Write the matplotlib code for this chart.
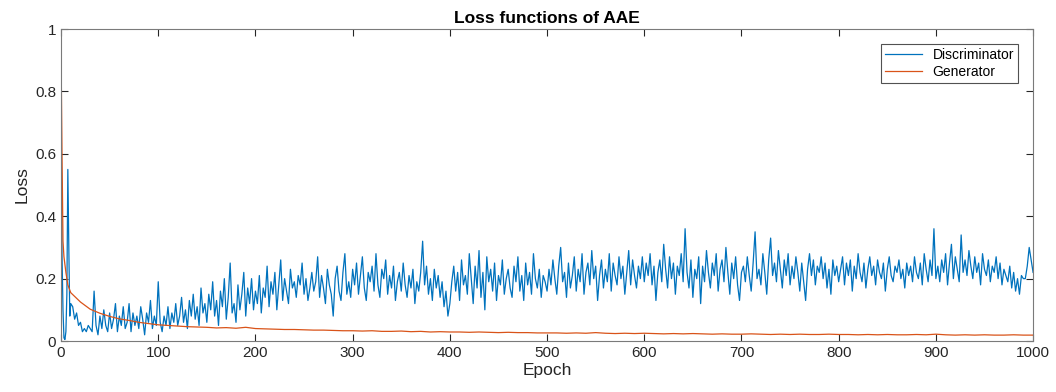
import numpy as np
import matplotlib.pyplot as plt

plt.rcParams['font.family'] = ['Liberation Sans', 'DejaVu Sans']

# ----------------------------
# Data
# ----------------------------

# discriminator, first epochs one by one
disc_early_epochs = [0, 1, 2, 3, 4, 5, 6, 7, 8, 9, 10]
disc_early_loss = [0.75, 0.28, 0.10, 0.01, 0.005, 0.03, 0.15, 0.55, 0.30, 0.08, 0.12]

# discriminator, then every 2 epochs from 12 to 1000
disc_step_start = 12
disc_step = 2
disc_loss = [
    # 12 - 100
    0.11, 0.07, 0.09, 0.05, 0.06, 0.03, 0.04, 0.03, 0.05, 0.04,
    0.03, 0.16, 0.05, 0.02, 0.08, 0.04, 0.10, 0.05, 0.03, 0.09,
    0.04, 0.07, 0.12, 0.03, 0.08, 0.05, 0.11, 0.04, 0.06, 0.12,
    0.03, 0.09, 0.05, 0.08, 0.04, 0.11, 0.07, 0.02, 0.09, 0.06,
    0.13, 0.04, 0.08, 0.05, 0.19,
    # 102 - 200
    0.06, 0.03, 0.08, 0.05, 0.11, 0.04, 0.09, 0.06, 0.12, 0.05,
    0.08, 0.14, 0.06, 0.10, 0.04, 0.13, 0.08, 0.15, 0.07, 0.11,
    0.05, 0.17, 0.09, 0.12, 0.06, 0.15, 0.10, 0.19, 0.08, 0.13,
    0.05, 0.16, 0.11, 0.20, 0.07, 0.14, 0.25, 0.09, 0.12, 0.06,
    0.18, 0.10, 0.15, 0.22, 0.08, 0.17, 0.12, 0.20, 0.10, 0.16,
    # 202 - 300
    0.12, 0.21, 0.09, 0.17, 0.14, 0.24, 0.11, 0.19, 0.15, 0.22,
    0.10, 0.18, 0.26, 0.13, 0.20, 0.16, 0.12, 0.23, 0.17, 0.19,
    0.14, 0.21, 0.18, 0.25, 0.15, 0.20, 0.13, 0.17, 0.22, 0.16,
    0.19, 0.27, 0.14, 0.21, 0.17, 0.12, 0.23, 0.18, 0.15, 0.08,
    0.20, 0.24, 0.16, 0.13, 0.22, 0.28, 0.15, 0.19, 0.14, 0.23,
    # 302 - 400
    0.18, 0.25, 0.15, 0.21, 0.27, 0.17, 0.13, 0.22, 0.19, 0.24,
    0.16, 0.28, 0.18, 0.14, 0.23, 0.20, 0.26, 0.15, 0.21, 0.17,
    0.24, 0.13, 0.19, 0.22, 0.16, 0.25, 0.18, 0.14, 0.21, 0.17,
    0.23, 0.12, 0.19, 0.16, 0.22, 0.32, 0.18, 0.24, 0.15, 0.20,
    0.13, 0.23, 0.17, 0.21, 0.14, 0.19, 0.11, 0.16, 0.08, 0.12,
    # 402 - 500
    0.19, 0.24, 0.16, 0.22, 0.13, 0.26, 0.18, 0.21, 0.15, 0.28,
    0.20, 0.12, 0.24, 0.17, 0.29, 0.14, 0.22, 0.10, 0.27, 0.19,
    0.23, 0.16, 0.25, 0.13, 0.21, 0.18, 0.26, 0.15, 0.20, 0.23,
    0.17, 0.14, 0.24, 0.19, 0.27, 0.16, 0.21, 0.13, 0.25, 0.18,
    0.22, 0.15, 0.28, 0.20, 0.17, 0.23, 0.14, 0.21, 0.19, 0.16,
    # 502 - 600
    0.23, 0.18, 0.26, 0.20, 0.15, 0.24, 0.30, 0.19, 0.22, 0.14,
    0.25, 0.17, 0.21, 0.27, 0.16, 0.23, 0.19, 0.28, 0.15, 0.22,
    0.25, 0.18, 0.29, 0.20, 0.24, 0.13, 0.21, 0.26, 0.17, 0.23,
    0.19, 0.28, 0.16, 0.25, 0.21, 0.18, 0.27, 0.20, 0.24, 0.15,
    0.22, 0.29, 0.18, 0.26, 0.21, 0.17, 0.24, 0.20, 0.27, 0.19,
    # 602 - 700
    0.25, 0.21, 0.28, 0.18, 0.24, 0.13, 0.22, 0.26, 0.19, 0.31,
    0.23, 0.17, 0.27, 0.20, 0.25, 0.15, 0.24, 0.21, 0.28, 0.19,
    0.36, 0.22, 0.17, 0.26, 0.14, 0.23, 0.20, 0.27, 0.12, 0.24,
    0.19, 0.29, 0.22, 0.17, 0.25, 0.21, 0.28, 0.16, 0.23, 0.26,
    0.19, 0.30, 0.22, 0.15, 0.25, 0.20, 0.27, 0.18, 0.13, 0.22,
    # 702 - 800
    0.24, 0.19, 0.27, 0.21, 0.16, 0.25, 0.35, 0.20, 0.23, 0.18,
    0.28, 0.22, 0.15, 0.26, 0.33, 0.21, 0.25, 0.19, 0.29, 0.23,
    0.17, 0.26, 0.21, 0.28, 0.18, 0.24, 0.20, 0.27, 0.22, 0.16,
    0.25, 0.19, 0.13, 0.23, 0.28, 0.21, 0.26, 0.18, 0.24, 0.22,
    0.27, 0.20, 0.25, 0.17, 0.23, 0.15, 0.26, 0.21, 0.24, 0.19,
    # 802 - 900
    0.23, 0.27, 0.18, 0.25, 0.21, 0.26, 0.16, 0.24, 0.20, 0.28,
    0.22, 0.19, 0.25, 0.17, 0.23, 0.27, 0.21, 0.24, 0.18, 0.26,
    0.22, 0.20, 0.25, 0.16, 0.23, 0.27, 0.21, 0.19, 0.24, 0.22,
    0.26, 0.20, 0.23, 0.17, 0.25, 0.21, 0.24, 0.19, 0.27, 0.22,
    0.20, 0.25, 0.18, 0.28, 0.23, 0.19, 0.26, 0.21, 0.36, 0.20,
    # 902 - 1000
    0.24, 0.19, 0.26, 0.22, 0.28, 0.18, 0.25, 0.31, 0.20, 0.27,
    0.23, 0.19, 0.34, 0.22, 0.26, 0.21, 0.29, 0.24, 0.20, 0.27,
    0.22, 0.25, 0.18, 0.28, 0.23, 0.21, 0.26, 0.19, 0.24, 0.22,
    0.27, 0.20, 0.25, 0.18, 0.23, 0.21, 0.19, 0.24, 0.17, 0.22,
    0.16, 0.20, 0.15, 0.21, 0.20, 0.20, 0.24, 0.30, 0.26, 0.22,
]

# generator, first epochs then every 10 epochs
gen_early_epochs = [0, 1, 2, 3, 5, 7]
gen_early_loss = [0.93, 0.60, 0.32, 0.27, 0.22, 0.18]
gen_step_start = 10
gen_step = 10
gen_loss = [
    0.155, 0.125, 0.102, 0.089, 0.079, 0.071, 0.066, 0.060, 0.056, 0.052,
    0.050, 0.048, 0.046, 0.045, 0.044, 0.042, 0.043, 0.041, 0.044, 0.040,
    0.039, 0.038, 0.037, 0.037, 0.036, 0.035, 0.035, 0.034, 0.033, 0.033,
    0.032, 0.033, 0.031, 0.031, 0.032, 0.030, 0.031, 0.029, 0.030, 0.029,
    0.029, 0.028, 0.029, 0.028, 0.027, 0.028, 0.027, 0.027, 0.026, 0.026,
    0.026, 0.025, 0.026, 0.025, 0.027, 0.025, 0.024, 0.025, 0.024, 0.025,
    0.024, 0.023, 0.024, 0.023, 0.024, 0.023, 0.022, 0.023, 0.022, 0.022,
    0.023, 0.022, 0.021, 0.022, 0.021, 0.022, 0.021, 0.021, 0.022, 0.021,
    0.021, 0.020, 0.021, 0.020, 0.021, 0.020, 0.020, 0.021, 0.020, 0.022,
    0.020, 0.019, 0.020, 0.019, 0.020, 0.019, 0.019, 0.020, 0.019, 0.019,
]

x_ticks = [0, 100, 200, 300, 400, 500, 600, 700, 800, 900, 1000]
y_ticks = [0, 0.2, 0.4, 0.6, 0.8, 1]
y_tick_labels = ["0", "0.2", "0.4", "0.6", "0.8", "1"]

BLUE = "#0072BD"
ORANGE = "#D95319"


def main():
    d_x = disc_early_epochs + list(disc_step_start + disc_step * np.arange(len(disc_loss)))
    d_y = disc_early_loss + disc_loss
    g_x = gen_early_epochs + list(gen_step_start + gen_step * np.arange(len(gen_loss)))
    g_y = gen_early_loss + gen_loss

    fig = plt.figure(figsize=(10.56, 3.92), dpi=100)
    ax = fig.add_axes([0.0578, 0.130, 0.9205, 0.796])

    ax.plot(d_x, d_y, color=BLUE, lw=0.9, label="Discriminator")
    ax.plot(g_x, g_y, color=ORANGE, lw=0.9, label="Generator")

    ax.set_xlim(0, 1000)
    ax.set_ylim(0, 1)
    ax.set_xticks(x_ticks)
    ax.set_yticks(y_ticks)
    ax.set_yticklabels(y_tick_labels)
    ax.tick_params(direction="in", top=True, right=True, length=5,
                   width=0.8, color="#262626", labelsize=11, labelcolor="#262626")
    for s in ax.spines.values():
        s.set_color("#7a7a7a")
        s.set_linewidth(0.8)

    ax.set_title("Loss functions of AAE", fontsize=12.5, fontweight="bold", pad=4)
    ax.set_xlabel("Epoch", fontsize=12.5, labelpad=2, color="#262626")
    ax.set_ylabel("Loss", fontsize=12.5, labelpad=4, color="#262626")

    leg = ax.legend(loc="upper right", fontsize=10, frameon=True, fancybox=False,
                    handlelength=2.6, borderpad=0.3, labelspacing=0.2,
                    bbox_to_anchor=(0.992, 0.975))
    leg.get_frame().set_edgecolor("#262626")
    leg.get_frame().set_linewidth(0.8)

    fig.savefig("out.png", dpi=100)


if __name__ == "__main__":
    main()
